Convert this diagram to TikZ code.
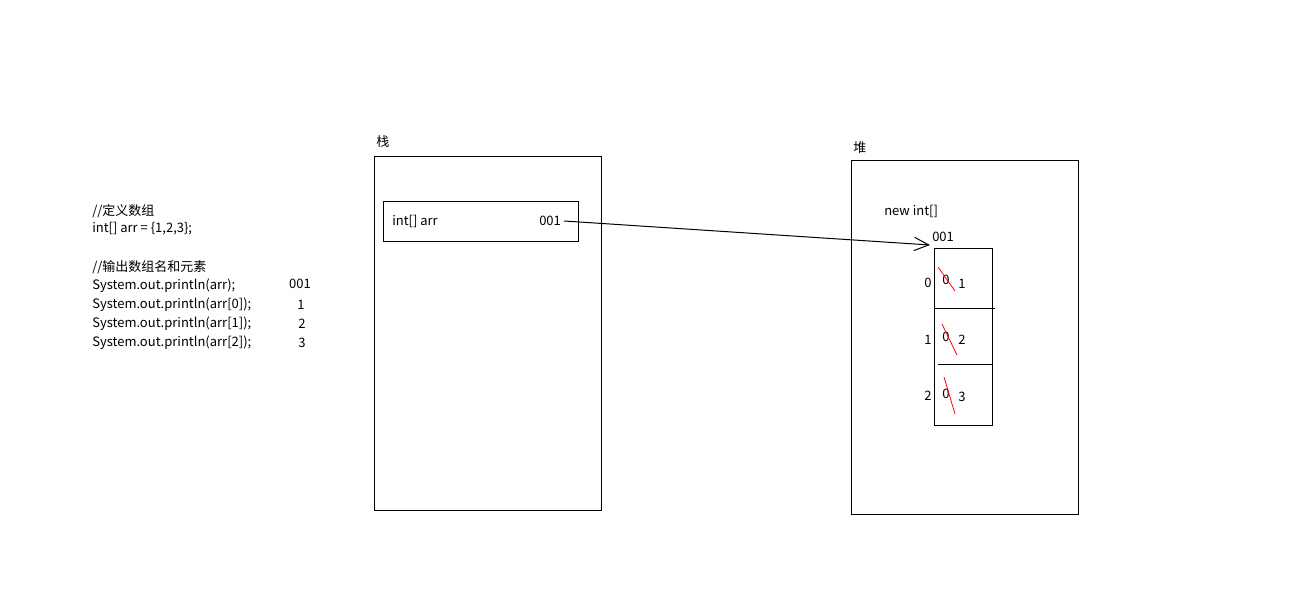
\documentclass[tikz,border=0pt]{standalone}
\usepackage{fontspec}
\setmainfont{Noto Sans CJK SC}
\usetikzlibrary{arrows.meta}
\begin{document}
\begin{tikzpicture}[x=0.75pt,y=-0.75pt,
  every node/.style={inner sep=0pt,font=\fontsize{9.75pt}{12pt}\selectfont},
  box/.style={draw,line width=0.75pt},
  txt/.style={anchor=west},
  strike/.style={red,line width=0.6pt},
  ptr/.style={line width=0.75pt,-{Straight Barb[length=11pt,width=10pt,line width=0.75pt]}}]
\useasboundingbox (0,0) rectangle (1297,600);
% code text
\node[txt] (l1) at (92,211) {//定义数组};
\node[txt] (l2) at (92,229) {int[] arr = \{1,2,3\};};
\node[txt] (l3) at (92,267) {//输出数组名和元素};
\node[txt] (l4) at (92,286) {System.out.println(arr);};
\node[txt] (l5) at (92,305) {System.out.println(arr[0]);};
\node[txt] (l6) at (92,324) {System.out.println(arr[1]);};
\node[txt] (l7) at (92,343) {System.out.println(arr[2]);};
\node (o1) at (300,284) {001};
\node (o2) at (301,305) {1};
\node (o3) at (302,324) {2};
\node (o4) at (302,343) {3};
% stack
\node[txt] (stacklbl) at (376,142) {栈};
\draw[box] (374,156) rectangle (601,510);
\node[box,minimum width=195*0.75pt,minimum height=40*0.75pt] (var) at (480.5,221) {};
\node[txt] (vname) at (392,221) {int[] arr};
\node[txt] (vval) at (539,221) {001};
% heap
\node[txt] (heaplbl) at (853,148) {堆};
\draw[box] (851,160) rectangle (1078,514);
\node[txt] (newint) at (884,211) {new int[]};
\node[txt] (addr) at (932,237) {001};
\node[minimum width=57*0.75pt,minimum height=176*0.75pt] (arr) at (963.5,337) {};
\draw[box] (arr.north west) rectangle (arr.south east);
\draw[line width=0.75pt] (935,308) -- (995,308);
\draw[line width=0.75pt] (938,364) -- (992,364);
% indices
\node (i0) at (928,283) {0};
\node (i1) at (928,340) {1};
\node (i2) at (928,396) {2};
% cell values
\node (z0) at (946,280) {0};
\node (v0) at (962,284) {1};
\node (z1) at (946,337) {0};
\node (v1) at (962,340) {2};
\node (z2) at (946,394) {0};
\node (v2) at (962,397) {3};
\draw[strike] (938,267) -- (955,291);
\draw[strike] (942,324) -- (957,355);
\draw[strike] (944,377) -- (955,414);
% pointer
\coordinate (tip) at (930,245);
\draw[ptr] ([xshift=3*0.75pt]vval.east) -- (tip);
\end{tikzpicture}
\end{document}
